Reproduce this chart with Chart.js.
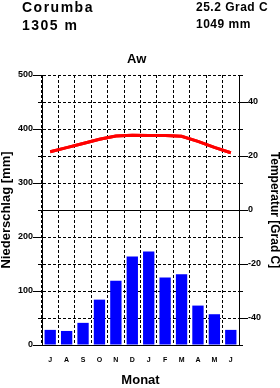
<!DOCTYPE html>
<html><head><meta charset="utf-8">
<script src="https://cdn.jsdelivr.net/npm/chart.js@4"></script>
<style>
html,body{margin:0;padding:0;background:#fff;}
#wrap{position:relative;width:280px;height:388px;overflow:hidden;background:#fff;}
canvas{position:absolute;left:0;top:0;}
.t{position:absolute;font-family:"Liberation Sans",Arial,sans-serif;font-weight:bold;color:#000;white-space:nowrap;}
</style></head><body>
<div id="wrap">
<canvas id="c" width="280" height="388"></canvas>
<div class="t" id="station" style="left:22px;top:0px;font-size:14px;line-height:14px;letter-spacing:1.5px"></div>
<div class="t" id="elev" style="left:22px;top:18px;font-size:14px;line-height:14px;letter-spacing:1.5px"></div>
<div class="t" id="mt" style="left:196px;top:1px;font-size:12px;line-height:12px;letter-spacing:0.5px"></div>
<div class="t" id="ap" style="left:196px;top:18px;font-size:12px;line-height:12px;letter-spacing:0.5px"></div>
<div class="t" id="cls" style="left:127px;top:52px;font-size:13px;line-height:13px"></div>
</div>
<script>
const stationName = 'Corumba';
const elevation = '1305 m';
const meanTemp = '25.2 Grad C';
const annualPrecip = '1049 mm';
const climateClass = 'Aw';
const months = ['J','A','S','O','N','D','J','F','M','A','M','J'];
const precip = [28,26,41,84,119,164,173,125,131,73,57,28];
const temp = [21.6,23.1,24.6,26.2,27.4,27.7,27.6,27.6,27.3,25.4,23.2,21.2];

document.getElementById('station').textContent = stationName;
document.getElementById('elev').textContent = elevation;
document.getElementById('mt').textContent = meanTemp;
document.getElementById('ap').textContent = annualPrecip;
document.getElementById('cls').textContent = climateClass;

const F = '"Liberation Sans", Arial, sans-serif';

const majorTicks = {
  id: 'majorTicks',
  afterDraw(chart) {
    const {ctx, chartArea: a, scales: {y, y2}} = chart;
    ctx.save();
    ctx.strokeStyle = '#000';
    ctx.lineWidth = 1;
    ctx.beginPath();
    y.ticks.forEach(t => {
      if (t.value % 100 === 0) {
        const p = Math.round(y.getPixelForValue(t.value)) + 0.5;
        ctx.moveTo(a.left - 9, p); ctx.lineTo(a.left, p);
      }
    });
    y2.ticks.forEach(t => {
      if (t.value % 20 === 0) {
        const p = Math.round(y2.getPixelForValue(t.value)) + 0.5;
        ctx.moveTo(a.right, p); ctx.lineTo(a.right + 9, p);
      }
    });
    ctx.stroke();
    ctx.restore();
  }
};
const lineOnTop = {
  id: 'lineOnTop',
  afterDraw(chart) {
    const meta = chart.getDatasetMeta(1);
    chart.ctx.save();
    meta.controller.draw();
    chart.ctx.restore();
  }
};

new Chart(document.getElementById('c'), {
  type: 'bar',
  data: {
    labels: months,
    datasets: [
      { type: 'bar', data: precip, yAxisID: 'y', backgroundColor: '#0000ff', borderWidth: 0,
        barPercentage: 0.69, categoryPercentage: 1.0 },
      { type: 'line', data: temp, yAxisID: 'y2', borderColor: '#ff0000', borderWidth: 3,
        pointRadius: 0, tension: 0, fill: false }
    ]
  },
  options: {
    responsive: false,
    devicePixelRatio: 1,
    animation: false,
    events: [],
    layout: { padding: { top: 75, left: 0, right: 0, bottom: 0 } },
    plugins: { legend: { display: false }, tooltip: { enabled: false }, title: { display: false } },
    scales: {
      x: {
        type: 'category', offset: true, z: 1,
        grid: { offset: true, color: '#000', lineWidth: 1, drawTicks: false },
        border: { display: true, color: '#000', width: 1, dash: [3, 2] },
        ticks: { color: '#000', font: { family: F, size: 7, weight: 'bold' }, padding: 11, maxRotation: 0, autoSkip: false },
        title: { display: true, text: 'Monat', color: '#000', font: { family: F, size: 13, weight: 'bold', lineHeight: 1 }, padding: { top: 0, bottom: 1 } },
        afterFit(s) { s.height = 43; }
      },
      y: {
        position: 'left', min: 0, max: 500, z: 1,
        ticks: { stepSize: 50, autoSkip: false, color: '#000', font: { family: F, size: 9, weight: 'bold' }, padding: 5,
                 callback: v => (v % 100 === 0 ? String(v) : '') },
        grid: { color: c => (c.tick && c.tick.value === 250 ? 'rgba(0,0,0,0)' : '#000'), tickColor: '#000', tickLength: 4, lineWidth: 1 },
        border: { display: true, color: '#000', width: 1, dash: [3, 2] },
        title: { display: true, text: 'Niederschlag [mm]', color: '#000', font: { family: F, size: 13, weight: 'bold', lineHeight: 1 }, padding: { top: 0, bottom: 0 } },
        afterFit(s) { s.width = 42; }
      },
      y2: {
        position: 'right', min: -50, max: 50, z: 1,
        ticks: { stepSize: 10, autoSkip: false, color: '#000', font: { family: F, size: 9, weight: 'bold' }, padding: 5,
                 callback: v => (v % 20 === 0 ? String(v) : '') },
        grid: { color: c => (c.tick && c.tick.value === 0 ? '#000' : 'rgba(0,0,0,0)'), tickColor: '#000', tickLength: 4, lineWidth: 1, drawOnChartArea: true },
        border: { display: true, color: '#000', width: 1 },
        title: { display: true, text: 'Temperatur [Grad C]', color: '#000', font: { family: F, size: 12, weight: 'bold', lineHeight: 1 }, padding: { top: 0, bottom: 0 } },
        afterFit(s) { s.width = 41; }
      }
    }
  },
  plugins: [majorTicks, lineOnTop]
});
</script>
</body></html>
